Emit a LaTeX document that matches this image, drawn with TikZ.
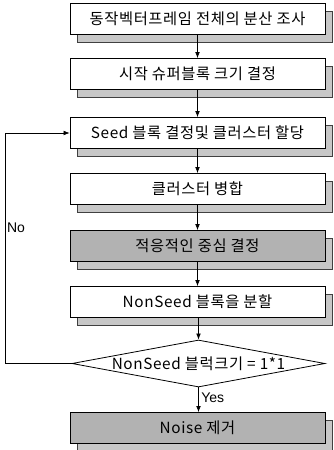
\documentclass[tikz,border=0pt]{standalone}
\usepackage{fontspec}
\setmainfont{Liberation Sans}
\newfontfamily\kr[LetterSpace=4]{Noto Sans CJK KR}
\usetikzlibrary{arrows.meta,shapes.geometric}
\tikzset{
  stepbox/.style={draw=black, line width=0.6pt, fill=white, minimum width=191.25pt, minimum height=23.25pt, inner sep=0pt, font=\kr\fontsize{11.5}{13}\selectfont},
  shadebox/.style={stepbox, fill=black!30},
  boxshadow/.style={draw=black!75, line width=0.4pt, fill=black!22, minimum width=191.25pt, minimum height=23.25pt, inner sep=0pt},
  flow/.style={draw=black, line width=0.5pt, -{Latex[length=4.5pt,width=3.5pt]}},
  lbl/.style={font=\fontsize{10.5}{12}\selectfont, inner sep=0pt}
}
\begin{document}
\begin{tikzpicture}[x=0.75pt,y=-0.75pt]
\useasboundingbox (0,0) rectangle (333,450);
% shadows
\path
  (205,27)   node[boxshadow] (s1) {}
  (205,82)   node[boxshadow] (s2) {}
  (205,141)  node[boxshadow] (s3) {}
  (205,197)  node[boxshadow] (s4) {}
  (205,254)  node[boxshadow] (s5) {}
  (205,310)  node[boxshadow] (s6) {}
  (205,436)  node[boxshadow] (s7) {};
% steps
\path
  (197.5,19)  node[stepbox] (b1) {동작벡터프레임 전체의 분산 조사}
  (197.5,74)  node[stepbox] (b2) {시작 슈퍼블록 크기 결정}
  (197.5,133) node[stepbox] (b3) {Seed 블록 결정및 클러스터 할당}
  (197.5,189) node[stepbox] (b4) {클러스터 병합}
  (197.5,246) node[shadebox] (b5) {적응적인 중심 결정}
  (197.5,302) node[stepbox] (b6) {NonSeed 블록을 분할}
  (198.5,363.5) node[draw, line width=0.6pt, fill=white, diamond, aspect=5.4, minimum width=189.75pt, minimum height=35.25pt, inner sep=0pt, font=\kr\fontsize{11.5}{13}\selectfont] (d) {NonSeed 블럭크기 = 1*1}
  (197.5,428) node[shadebox] (b7) {Noise 제거};
\draw[flow] (b1) -- (b2);
\draw[flow] (b2) -- (b3);
\draw[flow] (b3) -- (b4);
\draw[flow] (b4) -- (b5);
\draw[flow] (b5) -- (b6);
\draw[flow] (b6.south -| d.north) -- (d.north);
\draw[flow] (d.south) -- (b7.north -| d.south);
\coordinate (lp) at (5,363.5);
\draw[flow] (d.west) -- (lp) |- (b3.west);
\node[lbl] (no) at (16,228) {No};
\node[lbl, anchor=west] (yes) at (201,398) {Yes};
\end{tikzpicture}
\end{document}
